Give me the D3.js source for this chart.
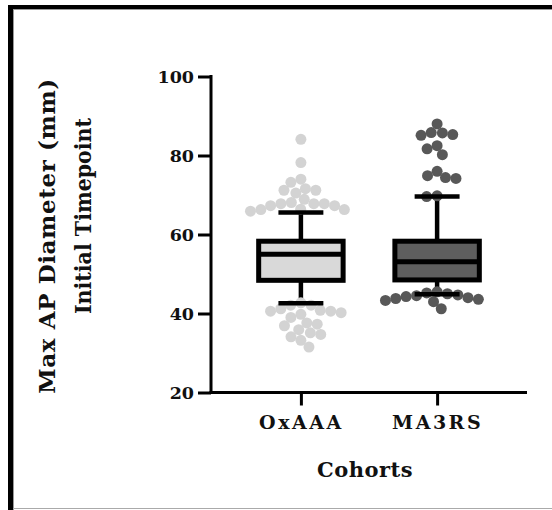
<!DOCTYPE html>
<html>
<head>
<meta charset="utf-8">
<script src="https://cdn.jsdelivr.net/npm/d3@7"></script>
<style>
  body { margin: 0; background: #fff; }
  svg { display: block; }
  text { font-family: "DejaVu Serif", serif; font-weight: bold; fill: #111; }
</style>
</head>
<body>
<svg width="552" height="510"></svg>
<script>
// cohorts and box statistics (whiskers = 10th/90th percentile)
var cohorts = ["OxAAA", "MA3RS"];
var boxFill = ["#d9d9d9", "#5e5e5e"];
var dotFill = ["#d3d3d3", "#585858"];
var q1 = [48.4, 48.5];
var median = [55.0, 53.1];
var q3 = [58.3, 58.3];
var whiskLo = [42.6, 44.9];
var whiskHi = [65.6, 69.6];

// points outside the whiskers
var oxaaaPoints = [84.1, 78.2, 74.0, 73.2, 71.6, 71.2, 71.2, 70.5, 68.9, 68.1, 67.8, 67.8, 67.8,
                   67.3, 67.3, 66.4, 66.3, 66.3, 65.9,
                   42.7, 42.1, 42.1, 41.2, 40.8, 40.6, 40.6, 40.2, 39.8, 39.0, 37.6, 37.3,
                   36.9, 35.9, 35.1, 34.7, 34.1, 33.2, 31.5];
var ma3rsPoints = [88.0, 85.8, 85.7, 85.3, 85.1, 82.5, 81.7, 80.2, 76.0, 74.9, 74.4, 74.2, 69.8, 69.6,
                   45.5, 45.2, 45.0, 44.7, 44.5, 44.3, 44.0, 43.8, 43.6, 43.3, 43.0, 41.2];
var yTicks = [20, 40, 60, 80, 100];

var svg = d3.select("svg");

// frame: heavy black top/left edge, thin grey inner line
svg.append("rect").attr("x", 8).attr("y", 5).attr("width", 544).attr("height", 4).attr("fill", "#000");
svg.append("rect").attr("x", 8).attr("y", 5).attr("width", 5).attr("height", 505).attr("fill", "#000");
svg.append("line").attr("x1", 13).attr("x2", 552).attr("y1", 9.5).attr("y2", 9.5).attr("stroke", "#999");
svg.append("line").attr("x1", 13.5).attr("x2", 13.5).attr("y1", 9).attr("y2", 510).attr("stroke", "#999");
svg.append("line").attr("x1", 13).attr("x2", 552).attr("y1", 508.5).attr("y2", 508.5).attr("stroke", "#aaa");

var y = d3.scaleLinear().domain([20, 100]).range([392.5, 76.5]);
var x = d3.scalePoint().domain(cohorts).range([211, 527]).padding(0.66);

// axes
var yAxis = svg.append("g").attr("transform", "translate(211,0)")
  .call(d3.axisLeft(y).tickValues(yTicks).tickSize(13).tickSizeOuter(0).tickPadding(4));
var xAxis = svg.append("g").attr("transform", "translate(0,392.5)")
  .call(d3.axisBottom(x).tickSize(13).tickSizeOuter(0).tickPadding(10));
[yAxis, xAxis].forEach(function(g) {
  g.select(".domain").attr("stroke", "#000").attr("stroke-width", 3);
  g.selectAll(".tick line").attr("stroke", "#000").attr("stroke-width", 3);
});
yAxis.select(".domain").attr("d", "M0," + (y(100) - 1.5) + "V" + (y(20) + 1.5));
xAxis.select(".domain").attr("d", "M" + 209.5 + ",0H527");
yAxis.selectAll(".tick text").attr("font-size", 17.5).attr("font-family", "DejaVu Serif")
  .attr("font-weight", "bold").attr("fill", "#111").attr("dy", "0.36em");
xAxis.selectAll(".tick text").attr("font-size", 19).attr("font-family", "DejaVu Serif")
  .attr("font-weight", "bold").attr("fill", "#111").attr("letter-spacing", 2.5);

// simple beeswarm: nearest free horizontal offset for each point
function swarm(vals, dist) {
  var placed = [];
  vals.slice().sort(function(a, b) { return b - a; }).forEach(function(v) {
    var py = y(v), forb = [];
    placed.forEach(function(p) {
      var dy = Math.abs(p.y - py);
      if (dy < dist) {
        var w = Math.sqrt(dist * dist - dy * dy);
        forb.push([p.dx - w, p.dx + w]);
      }
    });
    var cands = [0];
    forb.forEach(function(f) { cands.push(f[0], f[1]); });
    cands.sort(function(a, b) { return Math.abs(a) - Math.abs(b); });
    var dx = cands.find(function(c) {
      return forb.every(function(f) { return c <= f[0] + 1e-6 || c >= f[1] - 1e-6; });
    });
    placed.push({ v: v, y: py, dx: dx });
  });
  return placed;
}

var groups = [oxaaaPoints, ma3rsPoints];
var boxW = x.step() * 0.62, capW = x.step() * 0.33;

cohorts.forEach(function(c, i) {
  var cx = x(c);
  var g = svg.append("g");

  // whiskers
  g.append("line").attr("x1", cx).attr("x2", cx).attr("y1", y(q3[i])).attr("y2", y(whiskHi[i]))
    .attr("stroke", "#000").attr("stroke-width", 4.5);
  g.append("line").attr("x1", cx).attr("x2", cx).attr("y1", y(q1[i])).attr("y2", y(whiskLo[i]))
    .attr("stroke", "#000").attr("stroke-width", 4.5);

  // points
  g.selectAll("circle").data(swarm(groups[i], 10.5)).enter().append("circle")
    .attr("cx", function(d) { return cx + d.dx; })
    .attr("cy", function(d) { return d.y; })
    .attr("r", 5.5)
    .attr("fill", dotFill[i]);

  // caps drawn over points
  [whiskHi[i], whiskLo[i]].forEach(function(v) {
    g.append("line").attr("x1", cx - capW / 2).attr("x2", cx + capW / 2).attr("y1", y(v)).attr("y2", y(v))
      .attr("stroke", "#000").attr("stroke-width", 4.5);
  });

  // box
  g.append("rect").attr("x", cx - boxW / 2).attr("y", y(q3[i]))
    .attr("width", boxW).attr("height", y(q1[i]) - y(q3[i]))
    .attr("fill", boxFill[i]).attr("stroke", "#000").attr("stroke-width", 5);
  g.append("line").attr("x1", cx - boxW / 2).attr("x2", cx + boxW / 2)
    .attr("y1", y(median[i])).attr("y2", y(median[i]))
    .attr("stroke", "#000").attr("stroke-width", 5);
});

// axis titles
svg.append("text").attr("x", 365).attr("y", 477).attr("text-anchor", "middle")
  .attr("font-size", 21).attr("letter-spacing", 0.5).text("Cohorts");
svg.append("text").attr("transform", "translate(55,236) rotate(-90)").attr("text-anchor", "middle")
  .attr("font-size", 23).attr("letter-spacing", 0.6).text("Max AP Diameter (mm)");
svg.append("text").attr("transform", "translate(91,216) rotate(-90)").attr("text-anchor", "middle")
  .attr("font-size", 23).attr("textLength", 196).attr("lengthAdjust", "spacingAndGlyphs")
  .text("Initial Timepoint");
</script>
</body>
</html>
